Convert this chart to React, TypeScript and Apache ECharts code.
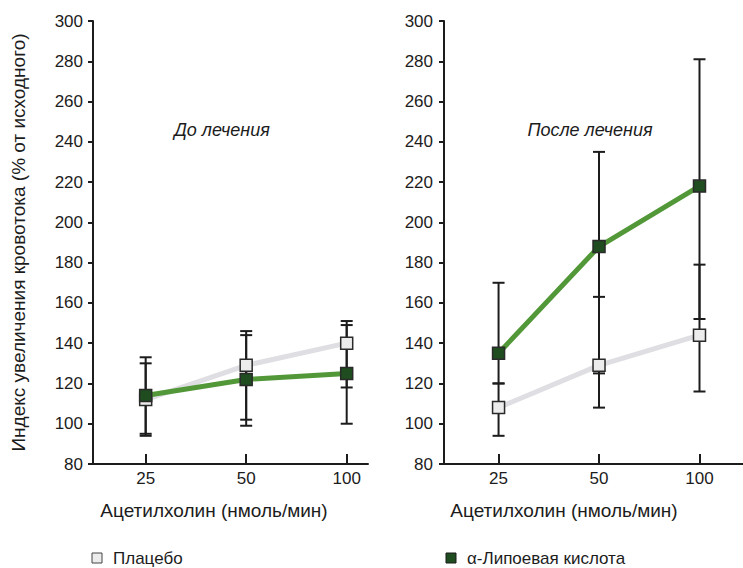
import React, { useEffect, useRef } from "react";
import * as echarts from "echarts";

const doses = ["25", "50", "100"];
const yTicks = { min: 80, max: 300, interval: 20 };

const placeboName = "Плацебо";
const lipoicName = "α-Липоевая кислота";
const panelTitles = ["До лечения", "После лечения"];
const xAxisTitle = "Ацетилхолин (нмоль/мин)";
const yAxisTitle = "Индекс увеличения кровотока (% от исходного)";

// Before treatment
const beforePlacebo = [112, 129, 140];
const beforePlaceboLow = [94, 102, 118];
const beforePlaceboHigh = [130, 144, 151];
const beforeLipoic = [114, 122, 125];
const beforeLipoicLow = [95, 99, 100];
const beforeLipoicHigh = [133, 146, 149];

// After treatment
const afterPlacebo = [108, 129, 144];
const afterPlaceboLow = [94, 108, 116];
const afterPlaceboHigh = [120, 163, 179];
const afterLipoic = [135, 188, 218];
const afterLipoicLow = [120, 125, 152];
const afterLipoicHigh = [170, 235, 281];

const FONT = "'Liberation Sans', Arial, Helvetica, sans-serif";
const INK = "#1c1c1c";
const GREEN_LINE = "#529838";
const GREEN_MARK = "#1f4d20";
const GRAY_LINE = "#dedee3";
const GRAY_MARK = "#ececec";

function pts(vals: number[]) {
  return vals.map((v, i) => [i, v]);
}
function errs(lo: number[], hi: number[]) {
  return lo.map((l, i) => [i, l, hi[i]]);
}

const errorRender = (params: any, api: any) => {
  const x = api.value(0);
  const pLo = api.coord([x, api.value(1)]);
  const pHi = api.coord([x, api.value(2)]);
  const w = 6;
  const style = { stroke: INK, lineWidth: 2 };
  return {
    type: "group",
    children: [
      { type: "line", shape: { x1: pLo[0], y1: pLo[1], x2: pHi[0], y2: pHi[1] }, style },
      { type: "line", shape: { x1: pLo[0] - w, y1: pLo[1], x2: pLo[0] + w, y2: pLo[1] }, style },
      { type: "line", shape: { x1: pHi[0] - w, y1: pHi[1], x2: pHi[0] + w, y2: pHi[1] }, style },
    ],
  };
};

function makeXAxis(gridIndex: number, min: number, max: number) {
  return {
    type: "value",
    gridIndex,
    min,
    max,
    axisLine: { show: true, onZero: false, lineStyle: { color: INK, width: 2 } },
    axisTick: { show: true, inside: true, length: 10, customValues: [0, 1, 2], lineStyle: { color: INK, width: 2 } },
    axisLabel: {
      customValues: [0, 1, 2],
      formatter: (v: number) => doses[Math.round(v)] ?? "",
      fontSize: 17,
      fontFamily: FONT,
      color: INK,
      margin: 6,
    },
    splitLine: { show: false },
  };
}

function makeYAxis(gridIndex: number, margin: number, withName: boolean) {
  return {
    type: "value",
    gridIndex,
    min: yTicks.min,
    max: yTicks.max,
    interval: yTicks.interval,
    name: withName ? yAxisTitle : "",
    nameLocation: "middle",
    nameRotate: 90,
    nameGap: 65,
    nameTextStyle: { fontSize: 19, fontFamily: FONT, color: INK },
    axisLine: { show: true, onZero: false, lineStyle: { color: INK, width: 2 } },
    axisTick: { show: true, inside: false, length: 5, lineStyle: { color: INK, width: 2 } },
    axisLabel: { fontSize: 17, fontFamily: FONT, color: INK, margin },
    splitLine: { show: false },
  };
}

function lineSeries(name: string, data: number[], gi: number, lineColor: string, markColor: string, z: number) {
  return {
    type: "line",
    name,
    xAxisIndex: gi,
    yAxisIndex: gi,
    data: pts(data),
    symbol: "rect",
    symbolSize: 12,
    z,
    lineStyle: { color: lineColor, width: 5 },
    itemStyle: { color: markColor, borderColor: "#2a2a2a", borderWidth: 1.5 },
  };
}

function errSeries(lo: number[], hi: number[], gi: number) {
  return {
    type: "custom",
    xAxisIndex: gi,
    yAxisIndex: gi,
    data: errs(lo, hi),
    encode: { x: 0, y: [1, 2] },
    renderItem: errorRender,
    z: 2,
    silent: true,
  };
}

export default function App() {
  const ref = useRef<HTMLDivElement>(null);
  useEffect(() => {
    if (!ref.current) return;
    const chart = echarts.init(ref.current, null, { renderer: "svg" });
    chart.setOption({
      animation: false,
      backgroundColor: "#ffffff",
      grid: [
        { left: 93, top: 21, width: 275, height: 443, outerBoundsMode: "none", containLabel: false },
        { left: 444, top: 21, width: 299, height: 443, outerBoundsMode: "none", containLabel: false },
      ],
      xAxis: [makeXAxis(0, -0.524, 2.212), makeXAxis(1, -0.543, 2.433)],
      yAxis: [makeYAxis(0, 10, true), makeYAxis(1, 11, false)],
      series: [
        errSeries(beforePlaceboLow, beforePlaceboHigh, 0),
        errSeries(beforeLipoicLow, beforeLipoicHigh, 0),
        errSeries(afterPlaceboLow, afterPlaceboHigh, 1),
        errSeries(afterLipoicLow, afterLipoicHigh, 1),
        lineSeries(placeboName, beforePlacebo, 0, GRAY_LINE, GRAY_MARK, 3),
        lineSeries(lipoicName, beforeLipoic, 0, GREEN_LINE, GREEN_MARK, 4),
        lineSeries(placeboName, afterPlacebo, 1, GRAY_LINE, GRAY_MARK, 3),
        lineSeries(lipoicName, afterLipoic, 1, GREEN_LINE, GREEN_MARK, 4),
      ],
      graphic: [
        { type: "text", x: 222, y: 130, style: { text: panelTitles[0], fontSize: 18, fontStyle: "italic", fontFamily: FONT, fill: INK, align: "center", verticalAlign: "middle" } },
        { type: "text", x: 590, y: 130, style: { text: panelTitles[1], fontSize: 18, fontStyle: "italic", fontFamily: FONT, fill: INK, align: "center", verticalAlign: "middle" } },
        { type: "text", x: 214, y: 510, style: { text: xAxisTitle, fontSize: 19, fontFamily: FONT, fill: INK, align: "center", verticalAlign: "middle" } },
        { type: "text", x: 564, y: 510, style: { text: xAxisTitle, fontSize: 19, fontFamily: FONT, fill: INK, align: "center", verticalAlign: "middle" } },
        { type: "rect", shape: { x: 92, y: 553, width: 10, height: 10 }, style: { fill: GRAY_MARK, stroke: "#444", lineWidth: 1 } },
        { type: "text", x: 113, y: 558, style: { text: placeboName, fontSize: 17, fontFamily: FONT, fill: INK, align: "left", verticalAlign: "middle" } },
        { type: "rect", shape: { x: 446, y: 553, width: 10, height: 10 }, style: { fill: GREEN_MARK, stroke: "#1a1a1a", lineWidth: 1 } },
        { type: "text", x: 467, y: 558, style: { text: lipoicName, fontSize: 17, fontFamily: FONT, fill: INK, align: "left", verticalAlign: "middle" } },
      ],
    });
    return () => chart.dispose();
  }, []);
  return <div ref={ref} style={{ position: "absolute", left: 0, top: 0, width: 743, height: 568 }} />;
}
